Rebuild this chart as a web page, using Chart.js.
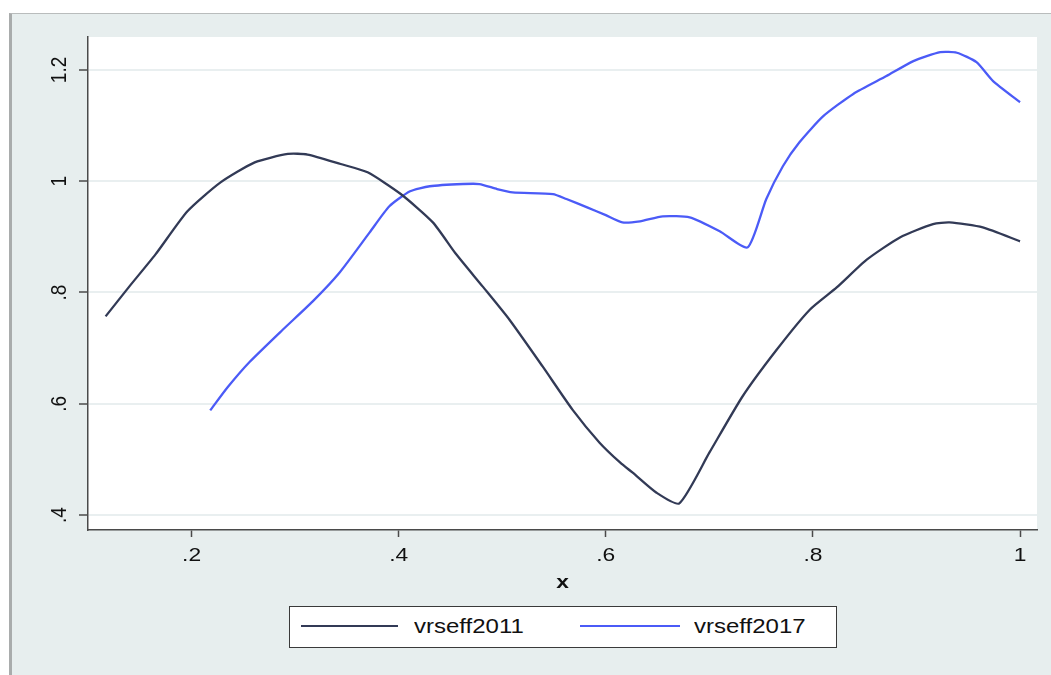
<!DOCTYPE html>
<html lang="en">
<head>
    <meta charset="UTF-8">
    <title>vrseff2011 vs vrseff2017</title>
    <script src="https://cdn.jsdelivr.net/npm/chart.js"></script>
    <style>
        body {
            margin: 0;
            background: #fff;
            font-family: 'Liberation Sans', Arial, sans-serif;
        }

        .frame {
            position: absolute;
            left: 9px;
            top: 13px;
            width: 1042px;
            height: 662px;
            box-sizing: border-box;
            background: #e7eeee;
            border-top: 1px solid #b9bcbc;
            border-left: 3px solid #a9acac;
        }

        #chart {
            position: absolute;
            left: 0;
            top: 0;
        }

        .legend {
            position: absolute;
            left: 289px;
            top: 606px;
            width: 548px;
            height: 42px;
            box-sizing: border-box;
            background: #fff;
            border: 1.5px solid #3a3a3a;
        }

        .legend .swatch {
            position: absolute;
            top: 18px;
            height: 2px;
        }

        .legend .label {
            position: absolute;
            top: 0;
            line-height: 39px;
            font-size: 20px;
            color: #111;
            transform: scaleX(1.2);
            transform-origin: left center;
            white-space: nowrap;
        }
    </style>
</head>
<body>
    <div class="frame"></div>
    <canvas id="chart" width="1051" height="675"></canvas>

    <div class="legend">
        <div class="swatch" style="left:11px;width:97px;background:#323a56"></div>
        <div class="label" style="left:124px">vrseff2011</div>
        <div class="swatch" style="left:290px;width:100px;background:#4b5bf7"></div>
        <div class="label" style="left:404px">vrseff2017</div>
    </div>

    <script>
        // values
        const x2011 = [0.117, 0.140, 0.165, 0.196, 0.228, 0.261, 0.293, 0.312, 0.344, 0.370,
                       0.402, 0.433, 0.455, 0.481, 0.507, 0.539, 0.568, 0.594, 0.614, 0.626,
                       0.649, 0.671, 0.700, 0.732, 0.765, 0.797, 0.823, 0.852, 0.884, 0.916,
                       0.932, 0.964, 1.000];
        const y2011 = [0.757, 0.811, 0.868, 0.946, 0.998, 1.034, 1.049, 1.048, 1.031, 1.016,
                       0.977, 0.926, 0.870, 0.811, 0.751, 0.667, 0.589, 0.530, 0.494, 0.476,
                       0.440, 0.421, 0.512, 0.613, 0.697, 0.769, 0.809, 0.859, 0.899, 0.923,
                       0.926, 0.917, 0.892];

        const x2017 = [0.218, 0.235, 0.256, 0.288, 0.317, 0.343, 0.372, 0.391, 0.411, 0.430,
                       0.462, 0.478, 0.495, 0.510, 0.549, 0.562, 0.582, 0.600, 0.616, 0.633,
                       0.655, 0.681, 0.710, 0.737, 0.755, 0.771, 0.787, 0.810, 0.839, 0.871,
                       0.897, 0.923, 0.939, 0.958, 0.974, 1.000];
        const y2017 = [0.588, 0.630, 0.675, 0.733, 0.784, 0.836, 0.908, 0.955, 0.982, 0.991,
                       0.995, 0.995, 0.986, 0.980, 0.977, 0.968, 0.953, 0.939, 0.926, 0.928,
                       0.937, 0.935, 0.910, 0.881, 0.968, 1.027, 1.070, 1.117, 1.157, 1.189,
                       1.216, 1.232, 1.231, 1.214, 1.180, 1.142];

        const xTicks = [0.2, 0.4, 0.6, 0.8, 1];
        const xTickLabels = ['.2', '.4', '.6', '.8', '1'];
        const yTicks = [0.4, 0.6, 0.8, 1, 1.2];
        const yTickLabels = ['.4', '.6', '.8', '1', '1.2'];
        const xTitle = 'x';

        const toPoints = (xs, ys) => xs.map((x, i) => ({ x: x, y: ys[i] }));

        const tickFont = '19px "Liberation Sans", Arial, sans-serif';

        // white plot region + stretched Stata-like labels
        const stataPlugin = {
            id: 'stataPlugin',
            beforeDraw(chart) {
                const { ctx, chartArea: a } = chart;
                ctx.save();
                ctx.fillStyle = '#fff';
                ctx.fillRect(a.left, a.top, a.right - a.left, a.bottom - a.top);
                ctx.restore();
            },
            afterDraw(chart) {
                const ctx = chart.ctx;
                const xs = chart.scales.x;
                const ys = chart.scales.y;
                ctx.save();
                ctx.fillStyle = '#111';
                ctx.textAlign = 'center';
                ctx.textBaseline = 'middle';
                ctx.font = tickFont;

                yTicks.forEach((v, i) => {
                    ctx.save();
                    ctx.translate(ys.right - 28, ys.getPixelForValue(v));
                    ctx.scale(1.2, 1);
                    ctx.rotate(-Math.PI / 2);
                    ctx.fillText(yTickLabels[i], 0, 0);
                    ctx.restore();
                });

                xTicks.forEach((v, i) => {
                    ctx.save();
                    ctx.translate(xs.getPixelForValue(v), xs.top + 26);
                    ctx.scale(1.2, 1);
                    ctx.fillText(xTickLabels[i], 0, 0);
                    ctx.restore();
                });

                ctx.save();
                ctx.font = 'bold 19px "Liberation Sans", Arial, sans-serif';
                ctx.translate((chart.chartArea.left + chart.chartArea.right) / 2, xs.top + 53);
                ctx.scale(1.2, 1);
                ctx.fillText(xTitle, 0, 0);
                ctx.restore();

                ctx.restore();
            }
        };

        const ctx = document.getElementById('chart').getContext('2d');
        new Chart(ctx, {
            type: 'line',
            data: {
                datasets: [
                    {
                        label: 'vrseff2011',
                        data: toPoints(x2011, y2011),
                        borderColor: '#323a56',
                        borderWidth: 2.3,
                        pointRadius: 0,
                        tension: 0.2,
                        fill: false
                    },
                    {
                        label: 'vrseff2017',
                        data: toPoints(x2017, y2017),
                        borderColor: '#4b5bf7',
                        borderWidth: 2.3,
                        pointRadius: 0,
                        tension: 0.2,
                        fill: false
                    }
                ]
            },
            options: {
                responsive: false,
                animation: false,
                devicePixelRatio: 1,
                layout: {
                    padding: { left: 0, top: 37, right: 14, bottom: 65 }
                },
                plugins: {
                    legend: { display: false },
                    tooltip: { enabled: false }
                },
                scales: {
                    x: {
                        type: 'linear',
                        min: 0.1,
                        max: 1.0164,
                        afterBuildTicks: scale => { scale.ticks = xTicks.map(v => ({ value: v })); },
                        afterFit: scale => { scale.height = 80; },
                        ticks: { display: false },
                        grid: {
                            drawOnChartArea: false,
                            drawTicks: true,
                            tickLength: 7,
                            tickColor: '#4a4a4a',
                            tickWidth: 1.5
                        },
                        border: { color: '#4a4a4a', width: 1.5 }
                    },
                    y: {
                        type: 'linear',
                        min: 0.373,
                        max: 1.2593,
                        afterBuildTicks: scale => { scale.ticks = yTicks.map(v => ({ value: v })); },
                        afterFit: scale => { scale.width = 88; },
                        ticks: { display: false },
                        grid: {
                            color: '#e9eff0',
                            lineWidth: 2,
                            drawTicks: true,
                            tickLength: 9,
                            tickColor: '#4a4a4a',
                            tickWidth: 1.5
                        },
                        border: { color: '#4a4a4a', width: 1.5 }
                    }
                }
            },
            plugins: [stataPlugin]
        });
    </script>
</body>
</html>
